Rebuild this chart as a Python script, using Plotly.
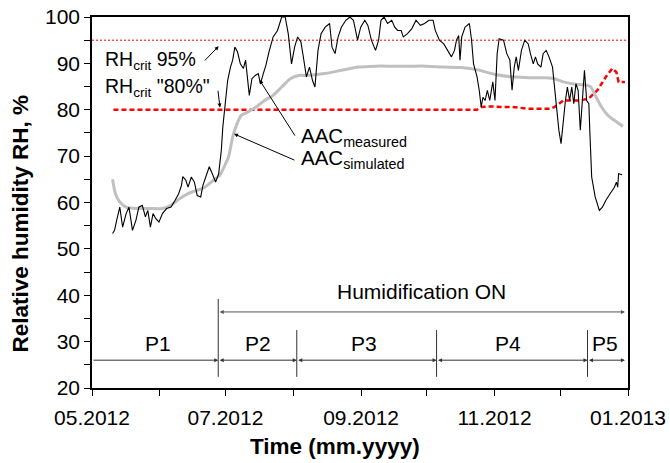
import pandas as pd
import plotly.graph_objects as go

START = pd.Timestamp("2012-05-01")

# Measured AAC (days since 01.05.2012, RH %)
meas_day = [9.4, 10.3, 11.3, 12.7, 14.0, 15.6, 16.9, 18.5, 20.1, 21.4, 23.0, 24.4, 25.5, 26.7, 27.9, 29.2,
            30.6, 32.2, 34.1, 36.1, 38.0, 39.6, 40.9, 41.5, 42.9, 43.9, 45.4, 46.8, 48.1, 49.7, 50.7, 52.0,
            53.6, 55.0, 56.5, 57.9, 59.1, 59.8, 60.8, 62.0, 63.3, 64.3, 65.3, 66.5, 67.8, 69.2, 70.2, 71.1,
            71.9, 73.1, 74.6, 76.0, 77.0, 78.3, 79.5, 80.9, 82.8, 84.8, 86.7, 88.3, 89.7, 91.2, 92.6, 94.0,
            95.5, 96.5, 98.0, 99.4, 100.8, 101.9, 103.3, 104.7, 106.6, 108.6, 109.7, 111.1, 112.5, 114.0,
            116.0, 117.9, 119.5, 121.4, 122.8, 124.7, 126.1, 127.7, 129.6, 131.0, 132.1, 133.5, 135.1,
            137.0, 138.4, 139.7, 141.3, 142.3, 144.2, 146.2, 148.1, 150.1, 152.0, 154.0, 155.9, 156.9,
            158.8, 160.8, 162.7, 164.3, 165.7, 166.6, 167.6, 168.2, 169.0, 170.5, 172.5, 173.5, 174.4,
            176.0, 177.0, 177.9, 178.7, 179.7, 180.7, 181.8, 183.2, 184.2, 185.2, 186.1, 188.1, 189.6,
            191.0, 192.0, 193.0, 193.9, 194.9, 196.3, 197.8, 199.4, 200.4, 201.7, 202.7, 203.7, 205.2,
            206.2, 207.6, 208.9, 210.5, 211.5, 212.5, 213.4, 214.4, 215.4, 216.4, 217.3, 218.3, 219.3,
            220.2, 221.2, 222.2, 223.2, 224.1, 225.1, 226.1, 227.1, 227.6, 228.4, 230.0, 231.9, 233.3,
            234.9, 236.8, 238.8, 239.7, 240.3, 240.7, 242.3]
meas_rh = [53.3, 54.0, 56.2, 59.0, 54.7, 57.6, 59.0, 54.0, 56.2, 59.0, 59.4, 56.9, 58.3, 54.7, 57.6, 56.5,
           55.8, 57.6, 58.7, 59.0, 60.5, 61.9, 63.7, 65.6, 64.8, 63.3, 65.5, 64.4, 61.5, 61.2, 63.7, 65.5,
           67.7, 66.2, 64.4, 66.2, 71.2, 76.3, 81.3, 86.3, 89.2, 90.7, 93.5, 92.5, 89.9, 88.9, 90.7, 86.3,
           83.1, 86.7, 87.4, 87.8, 85.6, 87.8, 89.6, 92.5, 95.7, 97.1, 100.0, 100.0, 96.4, 89.9, 93.5, 95.7,
           94.6, 91.7, 87.1, 89.2, 86.3, 84.9, 92.8, 96.4, 97.8, 98.6, 93.5, 92.1, 95.7, 97.8,
           99.3, 100.0, 99.3, 95.0, 97.8, 99.3, 98.2, 95.0, 92.8, 95.0, 99.3, 100.0, 98.6,
           99.3, 97.8, 97.1, 97.1, 95.7, 96.4, 97.5, 99.3, 98.2, 98.6, 99.3, 99.3, 97.1,
           95.0, 94.2, 92.8, 91.4, 92.8, 95.0, 96.0, 90.7, 95.7, 97.8, 98.6, 95.0, 89.9,
           87.1, 84.2, 80.6, 82.7, 82.0, 84.2, 82.0, 86.0, 82.0, 92.1, 95.3, 95.0, 92.1,
           90.7, 84.2, 89.2, 91.4, 88.5, 92.8, 95.0, 94.2, 92.1, 89.9, 91.4, 89.9, 89.2,
           92.1, 92.8, 91.4, 89.2, 84.2, 79.2, 75.6, 72.7, 77.7, 82.0, 84.9, 82.0, 84.9,
           81.3, 85.6, 84.2, 75.6, 82.0, 88.5, 82.0, 81.3, 74.8, 65.5, 61.2, 58.3, 59.0,
           60.5, 61.9, 63.3, 64.4, 63.3, 66.2, 66.0]

# Simulated AAC
sim_day = [9.4, 10.7, 12.7, 15.6, 20.5, 26.3, 32.2, 36.1, 40.0, 43.9, 47.8, 51.6, 55.5, 58.5, 60.4, 62.4,
           64.3, 66.3, 68.2, 71.1, 75.0, 78.9, 82.8, 86.7, 90.6, 94.5, 98.4, 106.2, 114.0, 121.8, 129.6,
           137.4, 145.2, 153.0, 160.8, 168.6, 176.4, 184.2, 192.0, 199.8, 207.6, 211.5, 215.4, 221.2,
           226.1, 228.0, 230.0, 232.9, 235.8, 239.7, 242.7]
sim_rh = [65.0, 61.9, 60.1, 59.0, 58.7, 58.7, 58.7, 59.4, 60.8, 61.9, 62.6, 63.3, 64.8, 65.9, 67.7, 69.8,
          74.1, 77.0, 78.8, 79.5, 80.6, 82.0, 83.1, 84.9, 86.7, 87.4, 87.4, 87.8, 88.5, 89.2, 89.4,
          89.4, 89.4, 89.4, 89.2, 89.1, 88.6, 87.6, 87.1, 86.9, 86.9, 86.7, 86.0, 85.5,
          85.3, 84.9, 83.1, 80.6, 78.8, 77.4, 76.4]

# Critical RH "80%" (time dependent)
crit80_day = [9.8, 176.0, 178.0, 182.0, 188.0, 192.0, 200.0, 209.5, 211.5, 215.4, 223.2, 227.0, 231.0,
              234.9, 237.8, 239.7, 240.7, 243.6]
crit80_rh = [80.0, 80.0, 80.6, 80.7, 80.6, 80.6, 80.2, 80.2, 80.6, 82.0, 82.0, 82.4, 84.2,
             87.1, 88.9, 88.1, 86.0, 86.0]

# Critical RH 95%
crit95_day = [0, 245]
crit95_rh = [95, 95]

# Period boundaries (days) and labels
period_bounds = [0, 57.7, 93.6, 157.5, 226.5, 243.6]
period_labels = ["P1", "P2", "P3", "P4", "P5"]
period_label_day = [30.2, 76.0, 124.3, 190.0, 234.5]

x_ticks_text = ["05.2012", "07.2012", "09.2012", "11.2012", "01.2013"]


def d(days):
    return START + pd.to_timedelta(days, unit="D")


FONT = "Liberation Sans, Arial, sans-serif"
FS = 21

fig = go.Figure()
fig.add_trace(go.Scatter(x=d(crit95_day), y=crit95_rh, mode="lines",
                         line=dict(color="#ff0000", width=1, dash="2px,2px"), showlegend=False))
fig.add_trace(go.Scatter(x=d(crit80_day), y=crit80_rh, mode="lines",
                         line=dict(color="#ff0000", width=2.5, dash="5px,3px"), showlegend=False))
fig.add_trace(go.Scatter(x=d(sim_day), y=sim_rh, mode="lines",
                         line=dict(color="#c0c0c0", width=3, shape="spline", smoothing=0.6), showlegend=False))
fig.add_trace(go.Scatter(x=d(meas_day), y=meas_rh, mode="lines",
                         line=dict(color="#000000", width=1.1), showlegend=False))

ann = []


def arrow(x_head, y_head, x_tail, y_tail, color="black", side="end", head=2, size=1.0, width=1):
    ann.append(dict(x=d(x_head), y=y_head, ax=d(x_tail), ay=y_tail, xref="x", yref="y", axref="x", ayref="y",
                    text="", showarrow=True, arrowhead=head, startarrowhead=head, arrowside=side,
                    arrowsize=size, startarrowsize=size, arrowwidth=width, arrowcolor=color, standoff=0,
                    startstandoff=0))


def label(x, y, text, xanchor="left", size=FS):
    ann.append(dict(x=d(x), y=y, xref="x", yref="y", text=text, showarrow=False, xanchor=xanchor,
                    yanchor="middle", font=dict(family=FONT, size=size, color="black")))


label(5.0, 90.6, "RH<sub>crit</sub> 95%", size=19.5)
label(5.0, 84.8, "RH<sub>crit</sub> \"80%\"", size=19.5)
label(94.6, 74.2, "AAC<sub>measured</sub>", size=20.5)
label(94.6, 69.3, "AAC<sub>simulated</sub>", size=20.5)
arrow(57.9, 93.7, 50.9, 90.3, size=0.8)
arrow(58.5, 80.5, 57.5, 84.4, size=0.8)
arrow(76.6, 86.4, 93.2, 74.1, size=0.8)
arrow(64.9, 74.8, 93.2, 69.0, size=0.8)

# Humidification ON
label(150.6, 40.9, "Humidification ON", xanchor="center")
arrow(243.6, 36.4, 57.7, 36.4, color="#555555", side="end+start", size=0.8)

# Periods
for i in range(len(period_labels)):
    side = "end" if i == 0 else "end+start"
    arrow(period_bounds[i + 1], 26, period_bounds[i], 26, color="#333333", side=side, size=0.8)
    label(period_label_day[i], 29.5, period_labels[i], xanchor="center")

# Axis titles (placed as in the reference)
ann.append(dict(x=-0.1334, y=0.4447, xref="paper", yref="paper", text="<b>Relative humidity RH, %</b>",
                textangle=-90, showarrow=False, xanchor="center", yanchor="middle",
                font=dict(family=FONT, size=22.5, color="black")))
ann.append(dict(x=0.4534, y=-0.159, xref="paper", yref="paper", text="<b>Time (mm.yyyy)</b>",
                showarrow=False, xanchor="center", yanchor="middle",
                font=dict(family=FONT, size=22.5, color="black")))

shapes = [dict(type="line", xref="x", yref="y", x0=d(57.7), x1=d(57.7), y0=22.4, y1=39.2,
               line=dict(color="#333333", width=1))]
for b in period_bounds[2:5]:
    shapes.append(dict(type="line", xref="x", yref="y", x0=d(b), x1=d(b), y0=22.4, y1=32.5,
                       line=dict(color="#333333", width=1)))

fig.update_layout(
    width=670, height=463,
    margin=dict(l=92, r=42, t=17, b=75, autoexpand=False),
    plot_bgcolor="white", paper_bgcolor="white",
    font=dict(family=FONT, size=FS, color="black"),
    annotations=ann, shapes=shapes,
    xaxis=dict(type="date", range=[START, pd.Timestamp("2013-01-01")], automargin=False,
               tickvals=[pd.Timestamp(s) for s in ["2012-05-01", "2012-07-01", "2012-09-01", "2012-11-01", "2013-01-01"]],
               ticktext=x_ticks_text,
               ticks="outside", ticklen=6, tickwidth=1, tickcolor="black", ticklabelstandoff=4,
               minor=dict(tickvals=[pd.Timestamp(s) for s in ["2012-06-01", "2012-08-01", "2012-10-01", "2012-12-01"]],
                          ticks="outside", ticklen=6, tickcolor="black"),
               showline=True, linecolor="black", linewidth=1.5, mirror=True, showgrid=False, zeroline=False,
               tickfont=dict(size=FS)),
    yaxis=dict(range=[20, 100], dtick=10, tick0=20, ticks="outside", ticklen=6, tickwidth=1, tickcolor="black",
               automargin=False,
               minor=dict(dtick=5, tick0=20, ticks="outside", ticklen=6, tickcolor="black"),
               showline=True, linecolor="black", linewidth=1.5, mirror=True, showgrid=False, zeroline=False,
               tickfont=dict(size=FS)),
)

fig.write_html("out.html")
